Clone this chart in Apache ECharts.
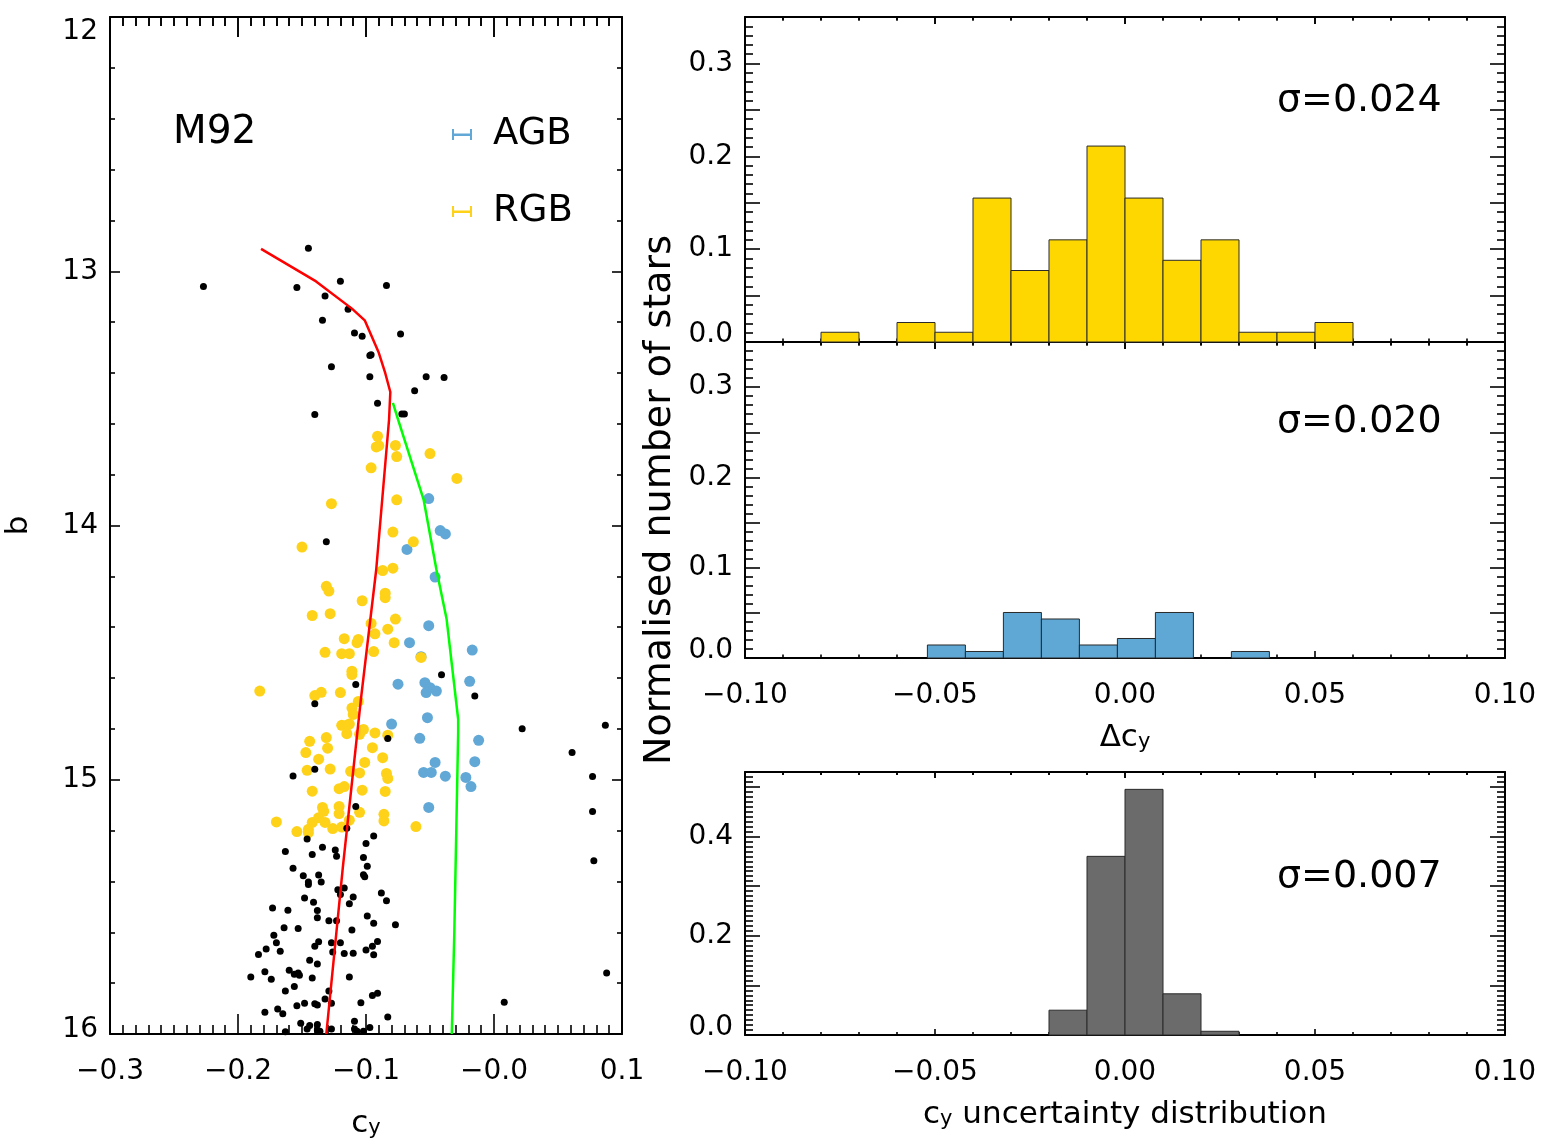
<!DOCTYPE html>
<html>
<head>
<meta charset="utf-8">
<title>M92 cy index</title>
<script src="https://cdn.jsdelivr.net/npm/echarts@6/dist/echarts.min.js"></script>
<style>
  html, body { margin: 0; padding: 0; background: #fff; }
  #main { width: 1550px; height: 1144px; }
</style>
</head>
<body>
<div id="main"></div>
<script>
// CMD stars, [c_y, b]
var blackStars = [
  [-0.227,13.060],[-0.145,12.910],[-0.154,13.064],[-0.120,13.039],[-0.084,13.056],[-0.132,13.097],
  [-0.114,13.149],[-0.134,13.193],[-0.109,13.243],[-0.103,13.256],[-0.073,13.247],[-0.097,13.331],
  [-0.096,13.328],[-0.127,13.376],[-0.097,13.415],[-0.053,13.415],[-0.039,13.418],[-0.062,13.470],
  [-0.091,13.519],[-0.140,13.563],[-0.072,13.561],[-0.070,13.561],[-0.131,14.064],[-0.108,14.625],
  [-0.041,14.587],[-0.015,14.671],[-0.140,14.701],[0.022,14.799],[-0.083,14.838],[-0.140,14.959],
  [-0.157,14.985],[-0.108,15.105],[-0.115,15.191],[-0.146,15.233],[-0.094,15.221],[-0.163,15.282],
  [-0.134,15.265],[-0.124,15.276],[-0.123,15.301],[-0.100,15.251],[-0.142,15.294],[-0.102,15.306],
  [-0.157,15.348],[-0.149,15.378],[-0.137,15.375],[-0.135,15.402],[-0.145,15.402],[-0.145,15.412],
  [-0.099,15.340],[-0.102,15.374],[-0.101,15.382],[-0.122,15.433],[-0.117,15.426],[-0.120,15.451],
  [-0.088,15.445],[-0.110,15.461],[-0.148,15.465],[-0.084,15.476],[-0.141,15.482],[-0.113,15.488],
  [-0.173,15.504],[-0.161,15.513],[-0.138,15.514],[-0.138,15.543],[-0.099,15.536],[-0.129,15.555],
  [-0.123,15.555],[-0.094,15.564],[-0.077,15.570],[-0.164,15.582],[-0.153,15.585],[-0.111,15.591],
  [-0.172,15.612],[-0.170,15.641],[-0.137,15.637],[-0.140,15.655],[-0.127,15.641],[-0.120,15.641],
  [-0.091,15.636],[-0.095,15.655],[-0.178,15.666],[-0.167,15.675],[-0.184,15.687],[-0.126,15.677],
  [-0.117,15.683],[-0.110,15.682],[-0.100,15.670],[-0.094,15.688],[-0.144,15.710],[-0.138,15.725],
  [-0.190,15.776],[-0.179,15.755],[-0.174,15.785],[-0.160,15.749],[-0.156,15.765],[-0.152,15.769],
  [-0.153,15.760],[-0.142,15.780],[-0.113,15.776],[-0.163,15.831],[-0.156,15.813],[-0.129,15.831],
  [-0.132,15.862],[-0.127,15.879],[-0.095,15.849],[-0.091,15.840],[-0.104,15.877],[-0.148,15.879],
  [-0.140,15.881],[-0.138,15.886],[-0.154,15.889],[-0.179,15.914],[-0.169,15.902],[-0.165,15.920],
  [-0.083,15.933],[0.008,15.875],[-0.151,15.958],[-0.144,15.967],[-0.138,15.963],[-0.146,15.980],
  [-0.138,15.984],[-0.136,15.989],[-0.127,15.980],[-0.109,15.950],[-0.109,15.980],[-0.107,15.989],
  [-0.097,15.974],[-0.102,15.989],[-0.163,15.991],[0.087,14.786],[0.061,14.893],[0.077,14.987],
  [0.077,15.125],[0.078,15.319],[0.088,15.760]
];
var rgbStars = [
  [-0.091,13.649],[-0.092,13.691],[-0.090,13.686],[-0.077,13.685],[-0.076,13.729],[-0.050,13.717],
  [-0.096,13.773],[-0.029,13.815],[-0.127,13.914],[-0.076,13.899],[-0.150,14.085],[-0.079,14.026],
  [-0.063,14.064],[-0.087,14.177],[-0.079,14.168],[-0.131,14.239],[-0.129,14.258],[-0.103,14.296],
  [-0.085,14.266],[-0.085,14.284],[-0.142,14.354],[-0.128,14.347],[-0.096,14.385],[-0.077,14.368],
  [-0.093,14.426],[-0.083,14.408],[-0.117,14.445],[-0.107,14.461],[-0.106,14.448],[-0.078,14.461],
  [-0.132,14.499],[-0.119,14.504],[-0.113,14.504],[-0.094,14.496],[-0.057,14.519],[-0.111,14.573],
  [-0.111,14.586],[-0.183,14.651],[-0.140,14.669],[-0.135,14.656],[-0.120,14.657],[-0.106,14.692],
  [-0.111,14.718],[-0.110,14.743],[-0.119,14.786],[-0.115,14.786],[-0.113,14.781],[-0.115,14.819],
  [-0.102,14.802],[-0.105,14.821],[-0.093,14.816],[-0.083,14.825],[-0.144,14.849],[-0.131,14.834],
  [-0.130,14.876],[-0.147,14.893],[-0.095,14.874],[-0.137,14.919],[-0.101,14.932],[-0.087,14.913],
  [-0.146,14.963],[-0.128,14.958],[-0.112,14.967],[-0.105,14.973],[-0.084,14.975],[-0.083,14.995],
  [-0.142,15.045],[-0.121,15.035],[-0.117,15.027],[-0.103,15.041],[-0.085,15.046],[-0.134,15.109],
  [-0.133,15.124],[-0.121,15.105],[-0.121,15.133],[-0.105,15.128],[-0.086,15.136],[-0.086,15.162],
  [-0.137,15.149],[-0.142,15.168],[-0.132,15.168],[-0.113,15.159],[-0.170,15.166],[-0.154,15.204],
  [-0.145,15.195],[-0.145,15.208],[-0.126,15.192],[-0.119,15.186],[-0.061,15.184]
];
var agbStars = [
  [-0.051,13.894],[-0.042,14.020],[-0.038,14.033],[-0.068,14.094],[-0.046,14.203],[-0.051,14.394],
  [-0.066,14.461],[-0.017,14.490],[-0.057,14.516],[-0.019,14.613],[-0.075,14.624],[-0.054,14.618],
  [-0.050,14.638],[-0.053,14.657],[-0.045,14.651],[-0.052,14.756],[-0.080,14.781],[-0.058,14.837],
  [-0.012,14.845],[-0.046,14.932],[-0.015,14.929],[-0.055,14.971],[-0.049,14.971],[-0.038,14.986],
  [-0.022,14.991],[-0.018,15.027],[-0.051,15.109]
];
// fiducial sequences
var rgbLine = [
  [-0.182,12.912],[-0.139,13.040],[-0.111,13.147],[-0.101,13.193],[-0.090,13.321],[-0.085,13.400],
  [-0.081,13.475],[-0.082,13.584],[-0.092,14.173],[-0.104,14.684],[-0.118,15.340],[-0.131,16.000]
];
var agbLine = [
  [-0.079,13.518],[-0.075,13.583],[-0.055,13.898],[-0.045,14.173],[-0.037,14.369],[-0.028,14.762],
  [-0.028,14.813],[-0.029,15.077],[-0.031,15.599],[-0.033,16.000]
];

// histograms: left bin edge and normalised number
var binWidth = 0.01;
var rgbBinStart = [-0.08, -0.06, -0.05, -0.04, -0.03, -0.02, -0.01, 0.00, 0.01, 0.02, 0.03, 0.04, 0.05];
var rgbFrac     = [0.0105, 0.021, 0.0105, 0.155, 0.077, 0.110, 0.211, 0.155, 0.088, 0.110, 0.0105, 0.0105, 0.021];
var agbBinStart = [-0.052, -0.042, -0.032, -0.022, -0.012, -0.002, 0.008, 0.028];
var agbFrac     = [0.0144, 0.0072, 0.0504, 0.0432, 0.0144, 0.0216, 0.0504, 0.0072];
var errBinStart = [-0.02, -0.01, 0.00, 0.01, 0.02];
var errFrac     = [0.050, 0.360, 0.495, 0.083, 0.0075];
var sigmaTexts  = ['σ=0.024', 'σ=0.020', 'σ=0.007'];

var FONT = 'DejaVu Sans';

function histData(starts, fracs) {
  return starts.map(function (x, i) { return [x, x + binWidth, fracs[i]]; });
}

function minus(v, d) {
  if (Math.abs(v) < 1e-9) return (0).toFixed(d);
  var s = Math.abs(v).toFixed(d);
  return v < 0 ? '\u2212' + s : s;
}

function renderBar(params, api) {
  var p0 = api.coord([api.value(0), api.value(2)]);
  var p1 = api.coord([api.value(1), 0]);
  return {
    type: 'rect',
    shape: { x: p0[0], y: p0[1], width: p1[0] - p0[0], height: p1[1] - p0[1] },
    style: { fill: api.visual('color'), stroke: '#2a2a2a', lineWidth: 1 }
  };
}

// end labels of y axes are pulled inside the frame, as in the original
var endRich = {
  lo: { fontSize: 28, fontFamily: FONT, color: '#000', padding: [0, 0, 14, 0] },
  lo16: { fontSize: 28, fontFamily: FONT, color: '#000', padding: [0, 0, 8, 0] },
  hi: { fontSize: 28, fontFamily: FONT, color: '#000', padding: [30, 0, 0, 0] }
};

function axis(o) {
  return {
    type: 'value', gridIndex: o.grid, position: o.pos,
    min: o.min, max: o.max, interval: o.interval, inverse: !!o.inverse,
    axisLine: { show: o.line !== false, onZero: false, lineStyle: { color: '#000', width: 2 } },
    axisTick: { show: true, inside: o.out ? false : true, length: o.major, lineStyle: { color: '#000', width: 1.6 } },
    minorTick: { show: true, splitNumber: o.minor, length: o.minorLen, lineStyle: { color: '#000', width: 1.6 } },
    axisLabel: { show: !!o.fmt, formatter: o.fmt, fontSize: 28, fontFamily: FONT, color: '#000',
                 margin: o.margin || 12, rich: endRich },
    splitLine: { show: false }, minorSplitLine: { show: false },
    name: o.name || '', nameLocation: 'middle', nameGap: o.nameGap || 0,
    nameRotate: o.nameRotate, nameTextStyle: o.nameStyle || {}
  };
}

var subRich = {
  c: { fontSize: 31, fontFamily: FONT, color: '#000', lineHeight: 31, verticalAlign: 'top' },
  s: { fontSize: 21, fontFamily: FONT, color: '#000', lineHeight: 21, verticalAlign: 'bottom', padding: [17, 0, 0, 0] }
};

function cmdX(v) { return Math.abs(v) < 1e-9 ? '\u22120.0' : minus(v, 1); }
function cmdY(v) {
  if (v === 12) return '{hi|12}';
  if (v === 16) return '{lo16|16}';
  return String(v);
}
function histX(v) { return minus(v, 2); }
function tenths(v) {
  if (Math.abs(v * 10 - Math.round(v * 10)) > 1e-6) return '';
  return Math.abs(v) < 1e-9 ? '{lo|0.0}' : v.toFixed(1);
}
function fifths(v) {
  if (Math.abs(v * 5 - Math.round(v * 5)) > 1e-6) return '';
  return Math.abs(v) < 1e-9 ? '{lo|0.0}' : v.toFixed(1);
}

var panels = [
  { left: 110, top: 17, width: 512, height: 1018 },
  { left: 745, top: 17, width: 760, height: 325 },
  { left: 745, top: 342, width: 760, height: 316 },
  { left: 745, top: 772, width: 760, height: 263 }
];
// x-axis scale of each panel: min, max, interval, minor split, major / minor tick length
var xScales = [
  [-0.3, 0.1, 0.1, 10, 20, 9],
  [-0.1, 0.1, 0.05, 5, 7, 3.5],
  [-0.1, 0.1, 0.05, 5, 7, 3.5],
  [-0.1, 0.1, 0.05, 5, 6, 3]
];

var grids = panels.slice();
var topXAxes = [], topYAxes = [];
// thin strip on each panel's upper edge carries the top tick marks
panels.forEach(function (p, i) {
  grids.push({ left: p.left, top: p.top - 1, width: p.width, height: 1 });
  var s = xScales[i];
  topXAxes.push(axis({ grid: 4 + i, pos: 'bottom', min: s[0], max: s[1], interval: s[2], minor: s[3],
                       major: s[4], minorLen: s[5], out: true, line: false }));
  topYAxes.push({ type: 'value', gridIndex: 4 + i, show: false, min: 0, max: 1 });
});

var chart = echarts.init(document.getElementById('main'));

var sigmaStyle = { fontSize: 38, fontWeight: 'normal', fontFamily: FONT, color: '#000' };

function xs(i, pos, extra) {
  var s = xScales[i];
  var o = { grid: i, pos: pos, min: s[0], max: s[1], interval: s[2], minor: s[3], major: s[4], minorLen: s[5] };
  for (var k in extra) o[k] = extra[k];
  return axis(o);
}

var option = {
  animation: false,
  backgroundColor: '#fff',
  textStyle: { fontFamily: FONT },
  title: [
    { text: 'M92', left: 173, top: 113, padding: 0,
      textStyle: { fontSize: 39, fontWeight: 'normal', fontFamily: FONT, color: '#000' } },
    { text: sigmaTexts[0], left: 1277, top: 82, padding: 0, textStyle: sigmaStyle },
    { text: sigmaTexts[1], left: 1277, top: 403, padding: 0, textStyle: sigmaStyle },
    { text: sigmaTexts[2], left: 1277, top: 858, padding: 0, textStyle: sigmaStyle }
  ],
  legend: {
    data: ['AGB', 'RGB'], orient: 'vertical', left: 452, top: 116, padding: 0,
    itemWidth: 20, itemHeight: 11, itemGap: 40,
    icon: 'path://M0,0h2v11h-2z M2,4.5h16v2.5h-16z M18,0h2v11h-2z',
    textStyle: { fontSize: 37, fontFamily: FONT, color: '#000', padding: [0, 0, 0, 16] }
  },
  grid: grids,
  xAxis: [
    xs(0, 'bottom', { fmt: cmdX, margin: 24, name: '{c|c}{s|y}', nameGap: 74, nameStyle: { rich: subRich } }),
    xs(0, 'top', {}),
    xs(1, 'bottom', {}),
    xs(1, 'top', {}),
    xs(2, 'bottom', { fmt: histX, margin: 24, name: '{c|\u0394c}{s|y}', nameGap: 64, nameStyle: { rich: subRich } }),
    xs(2, 'top', {}),
    xs(3, 'bottom', { fmt: histX, margin: 24, name: '{c|c}{s|y}{c| uncertainty distribution}', nameGap: 64,
                      nameStyle: { rich: subRich } }),
    xs(3, 'top', {})
  ].concat(topXAxes),
  yAxis: [
    axis({ grid: 0, pos: 'left', min: 12, max: 16, interval: 1, inverse: true, minor: 5, major: 10, minorLen: 5,
           fmt: cmdY, margin: 12, name: 'b', nameGap: 76, nameRotate: 90,
           nameStyle: { fontSize: 31, fontFamily: FONT, color: '#000' } }),
    axis({ grid: 0, pos: 'right', min: 12, max: 16, interval: 1, inverse: true, minor: 5, major: 10, minorLen: 5 }),
    axis({ grid: 1, pos: 'left', min: 0, max: 0.35, interval: 0.05, minor: 5, major: 15, minorLen: 8, fmt: tenths }),
    axis({ grid: 1, pos: 'right', min: 0, max: 0.35, interval: 0.05, minor: 5, major: 15, minorLen: 8 }),
    axis({ grid: 2, pos: 'left', min: 0, max: 0.35, interval: 0.05, minor: 5, major: 15, minorLen: 8, fmt: tenths,
           name: 'Normalised number of stars', nameGap: 66, nameRotate: 90,
           nameStyle: { fontSize: 38, fontFamily: FONT, color: '#000' } }),
    axis({ grid: 2, pos: 'right', min: 0, max: 0.35, interval: 0.05, minor: 5, major: 15, minorLen: 8 }),
    axis({ grid: 3, pos: 'left', min: 0, max: 0.53, interval: 0.1, minor: 10, major: 15, minorLen: 8, fmt: fifths }),
    axis({ grid: 3, pos: 'right', min: 0, max: 0.53, interval: 0.1, minor: 10, major: 15, minorLen: 8 })
  ].concat(topYAxes),
  series: [
    { name: 'AGB', type: 'scatter', xAxisIndex: 0, yAxisIndex: 0, data: agbStars,
      symbolSize: 11, itemStyle: { color: '#62A8D6', opacity: 1 } },
    { name: 'RGB', type: 'scatter', xAxisIndex: 0, yAxisIndex: 0, data: rgbStars,
      symbolSize: 11, itemStyle: { color: '#FFD21A', opacity: 1 } },
    { name: 'all', type: 'scatter', xAxisIndex: 0, yAxisIndex: 0, data: blackStars,
      symbolSize: 7, itemStyle: { color: '#000', opacity: 1 } },
    { name: 'rgbfid', type: 'line', xAxisIndex: 0, yAxisIndex: 0, data: rgbLine, showSymbol: false,
      lineStyle: { color: '#FF0000', width: 2.5 }, z: 5 },
    { name: 'agbfid', type: 'line', xAxisIndex: 0, yAxisIndex: 0, data: agbLine, showSymbol: false,
      lineStyle: { color: '#00FF00', width: 2.5 }, z: 5 },
    { type: 'custom', xAxisIndex: 2, yAxisIndex: 2, data: histData(rgbBinStart, rgbFrac),
      encode: { x: [0, 1], y: 2 }, renderItem: renderBar, itemStyle: { color: '#FFD700' } },
    { type: 'custom', xAxisIndex: 4, yAxisIndex: 4, data: histData(agbBinStart, agbFrac),
      encode: { x: [0, 1], y: 2 }, renderItem: renderBar, itemStyle: { color: '#5FA8D5' } },
    { type: 'custom', xAxisIndex: 6, yAxisIndex: 6, data: histData(errBinStart, errFrac),
      encode: { x: [0, 1], y: 2 }, renderItem: renderBar, itemStyle: { color: '#6B6B6B' } }
  ]
};

chart.setOption(option);
</script>
</body>
</html>
